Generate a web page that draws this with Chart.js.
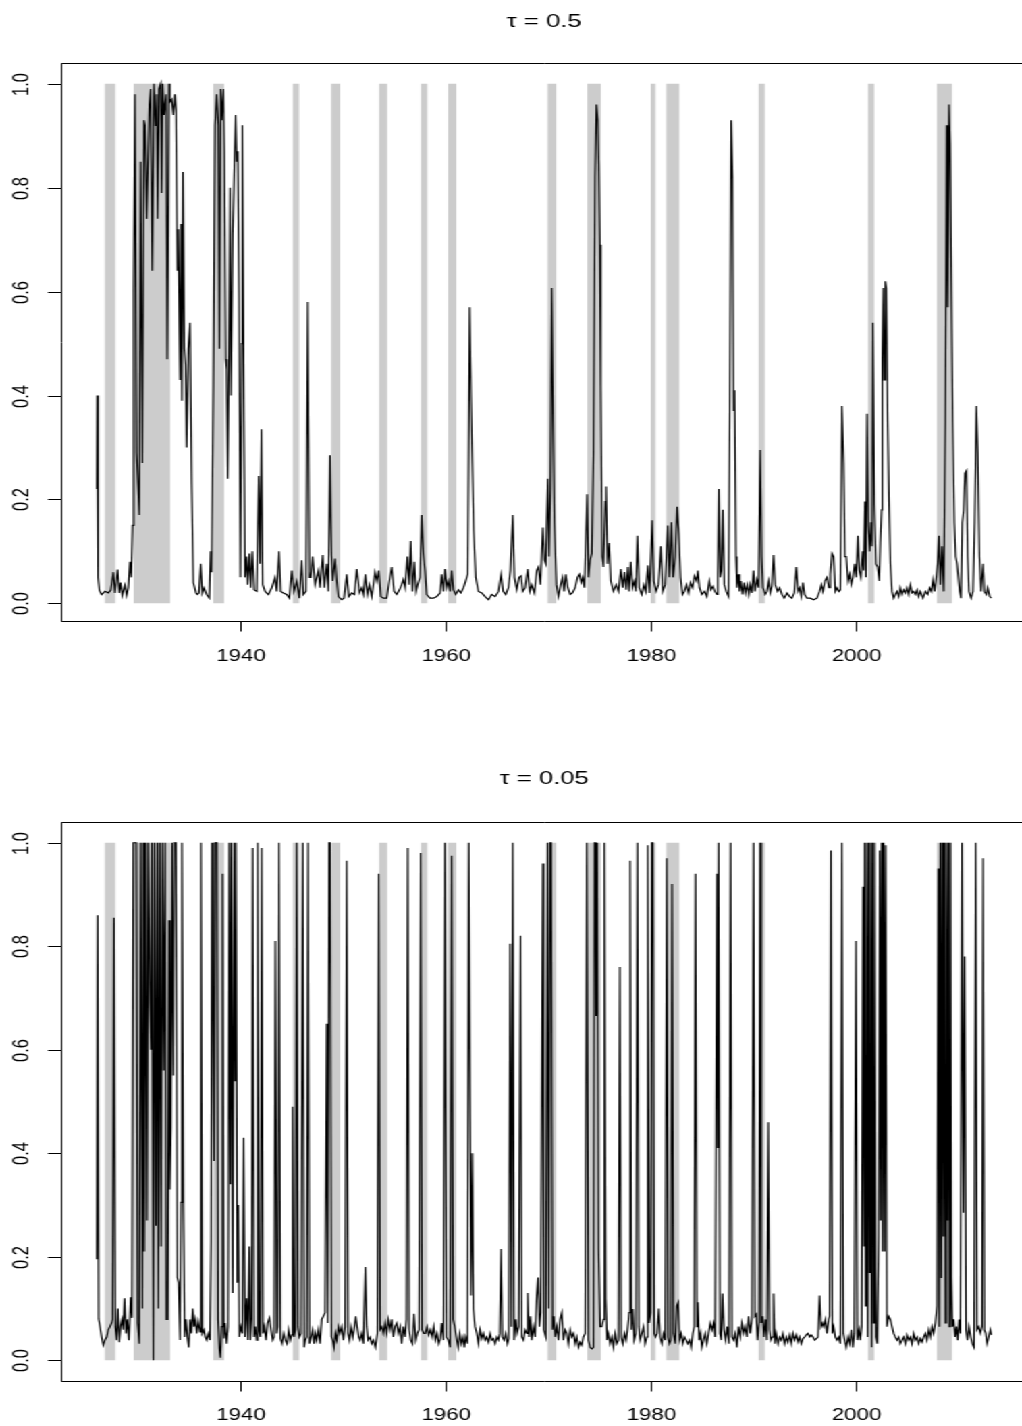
<!DOCTYPE html>
<html><head><meta charset="utf-8">
<script src="https://cdn.jsdelivr.net/npm/chart.js@4.4.1/dist/chart.umd.min.js"></script>
<style>
html,body{margin:0;padding:0;background:#fff;overflow:hidden;width:1022px;height:1426px;}
#wrap{position:absolute;left:0;top:0;width:761px;height:1426px;transform:scaleX(1.35);transform-origin:0 0;}
.panel{position:absolute;left:0;width:761px;height:713px;}
</style></head><body>
<div id="wrap">
<div class="panel" style="top:0"><canvas id="c1" width="761" height="713"></canvas></div>
<div class="panel" style="top:713px"><canvas id="c2" width="761" height="713"></canvas></div>
</div>
<script>
// ---------------- data (decimal year, probability) ----------------
const topPoints = [[1926.00,0.22],[1926.04,0.40],[1926.08,0.22],[1926.17,0.05],[1926.25,0.025],[1926.47,0.017],[1926.79,0.023],[1927.12,0.02],[1927.35,0.025],[1927.61,0.06],[1927.77,0.02],[1928.03,0.065],[1928.19,0.02],[1928.32,0.04],[1928.48,0.015],[1928.74,0.035],[1928.91,0.015],[1929.07,0.03],[1929.23,0.08],[1929.36,0.05],[1929.49,0.15],[1929.59,0.6],[1929.72,0.98],[1929.88,0.29],[1930.14,0.17],[1930.27,0.85],[1930.44,0.27],[1930.60,0.93],[1930.70,0.92],[1930.86,0.74],[1931.12,0.96],[1931.25,0.99],[1931.41,0.64],[1931.57,1.0],[1931.74,0.92],[1931.83,0.98],[1931.93,0.74],[1932.06,0.99],[1932.22,1.0],[1932.32,0.79],[1932.42,1.0],[1932.55,0.94],[1932.75,0.98],[1932.87,0.47],[1933.04,1.0],[1933.13,0.965],[1933.30,0.97],[1933.46,0.94],[1933.62,0.98],[1933.72,0.95],[1933.85,0.64],[1933.95,0.72],[1934.05,0.72],[1934.11,0.43],[1934.21,0.73],[1934.31,0.39],[1934.40,0.83],[1934.53,0.49],[1934.66,0.46],[1934.76,0.30],[1934.92,0.49],[1935.09,0.54],[1935.25,0.23],[1935.41,0.04],[1935.67,0.02],[1935.80,0.017],[1935.96,0.02],[1936.13,0.076],[1936.29,0.02],[1936.45,0.03],[1936.71,0.017],[1936.97,0.01],[1937.10,0.10],[1937.20,0.06],[1937.36,0.42],[1937.53,0.92],[1937.69,0.98],[1937.85,0.92],[1937.95,0.49],[1938.08,0.99],[1938.18,0.93],[1938.34,0.99],[1938.44,0.87],[1938.57,0.47],[1938.66,0.45],[1938.76,0.24],[1938.89,0.48],[1938.99,0.80],[1939.09,0.40],[1939.25,0.71],[1939.41,0.84],[1939.54,0.94],[1939.64,0.85],[1939.74,0.87],[1939.87,0.59],[1940.00,0.05],[1940.13,0.50],[1940.19,0.92],[1940.35,0.35],[1940.45,0.05],[1940.61,0.09],[1940.71,0.036],[1940.88,0.096],[1941.00,0.03],[1941.17,0.10],[1941.33,0.026],[1941.59,0.023],[1941.79,0.245],[1941.92,0.076],[1942.05,0.335],[1942.18,0.036],[1942.41,0.023],[1942.73,0.017],[1943.06,0.03],[1943.38,0.05],[1943.54,0.023],[1943.77,0.10],[1943.93,0.023],[1944.19,0.02],[1944.52,0.017],[1944.78,0.01],[1945.01,0.063],[1945.23,0.023],[1945.49,0.043],[1945.75,0.01],[1945.98,0.083],[1946.14,0.017],[1946.40,0.023],[1946.57,0.58],[1946.73,0.05],[1946.86,0.05],[1947.05,0.09],[1947.28,0.036],[1947.61,0.063],[1947.77,0.03],[1948.03,0.093],[1948.19,0.03],[1948.42,0.076],[1948.58,0.023],[1948.74,0.285],[1948.87,0.093],[1949.00,0.043],[1949.23,0.086],[1949.40,0.043],[1949.56,0.013],[1949.88,0.007],[1950.11,0.01],[1950.37,0.056],[1950.57,0.013],[1950.86,0.02],[1951.12,0.017],[1951.35,0.066],[1951.61,0.02],[1951.83,0.03],[1952.00,0.017],[1952.19,0.056],[1952.39,0.017],[1952.58,0.036],[1952.81,0.013],[1953.13,0.06],[1953.30,0.043],[1953.49,0.063],[1953.69,0.013],[1953.95,0.01],[1954.27,0.01],[1954.50,0.04],[1954.76,0.07],[1954.99,0.023],[1955.25,0.017],[1955.51,0.026],[1955.73,0.036],[1955.89,0.046],[1956.06,0.03],[1956.28,0.09],[1956.45,0.036],[1956.61,0.12],[1956.77,0.023],[1956.97,0.08],[1957.13,0.023],[1957.29,0.036],[1957.52,0.05],[1957.68,0.17],[1957.84,0.096],[1958.01,0.063],[1958.17,0.017],[1958.49,0.01],[1958.82,0.01],[1959.15,0.013],[1959.47,0.02],[1959.63,0.056],[1959.80,0.023],[1959.96,0.066],[1960.12,0.03],[1960.28,0.043],[1960.45,0.023],[1960.61,0.063],[1960.77,0.026],[1961.00,0.017],[1961.26,0.026],[1961.49,0.02],[1961.75,0.03],[1961.97,0.043],[1962.17,0.056],[1962.36,0.57],[1962.49,0.40],[1962.62,0.27],[1962.75,0.14],[1962.95,0.05],[1963.21,0.023],[1963.54,0.02],[1963.86,0.013],[1964.19,0.007],[1964.51,0.017],[1964.84,0.013],[1965.16,0.023],[1965.42,0.056],[1965.62,0.023],[1965.88,0.017],[1966.14,0.03],[1966.33,0.063],[1966.56,0.17],[1966.72,0.05],[1966.95,0.026],[1967.18,0.05],[1967.37,0.053],[1967.54,0.023],[1967.76,0.03],[1968.02,0.066],[1968.22,0.023],[1968.41,0.036],[1968.67,0.02],[1968.90,0.063],[1969.06,0.07],[1969.26,0.036],[1969.49,0.146],[1969.65,0.083],[1969.78,0.076],[1969.97,0.24],[1970.10,0.09],[1970.23,0.22],[1970.36,0.607],[1970.49,0.35],[1970.62,0.155],[1970.82,0.036],[1971.01,0.013],[1971.24,0.036],[1971.41,0.05],[1971.57,0.023],[1971.73,0.056],[1971.93,0.03],[1972.15,0.017],[1972.38,0.02],[1972.64,0.03],[1972.87,0.05],[1973.06,0.056],[1973.23,0.04],[1973.39,0.05],[1973.55,0.03],[1973.81,0.21],[1973.94,0.05],[1974.10,0.083],[1974.27,0.096],[1974.43,0.29],[1974.59,0.82],[1974.72,0.96],[1974.85,0.93],[1974.95,0.845],[1975.05,0.69],[1975.14,0.42],[1975.27,0.09],[1975.40,0.07],[1975.57,0.196],[1975.66,0.225],[1975.80,0.076],[1975.96,0.116],[1976.12,0.043],[1976.38,0.023],[1976.64,0.036],[1976.87,0.023],[1977.10,0.066],[1977.29,0.03],[1977.45,0.06],[1977.62,0.026],[1977.78,0.07],[1977.91,0.023],[1978.07,0.08],[1978.24,0.03],[1978.43,0.043],[1978.56,0.023],[1978.72,0.13],[1978.88,0.03],[1979.14,0.017],[1979.34,0.036],[1979.53,0.023],[1979.73,0.073],[1979.89,0.02],[1980.15,0.16],[1980.31,0.043],[1980.54,0.023],[1980.77,0.036],[1981.00,0.11],[1981.19,0.023],[1981.42,0.036],[1981.68,0.15],[1981.84,0.05],[1982.04,0.156],[1982.20,0.05],[1982.40,0.09],[1982.59,0.186],[1982.75,0.135],[1982.92,0.05],[1983.11,0.017],[1983.31,0.023],[1983.50,0.036],[1983.70,0.02],[1983.89,0.04],[1984.09,0.03],[1984.28,0.053],[1984.48,0.043],[1984.61,0.063],[1984.77,0.03],[1985.00,0.017],[1985.26,0.023],[1985.49,0.013],[1985.72,0.043],[1985.88,0.026],[1986.08,0.033],[1986.27,0.023],[1986.47,0.017],[1986.56,0.056],[1986.66,0.22],[1986.79,0.05],[1986.92,0.063],[1987.05,0.18],[1987.18,0.036],[1987.38,0.023],[1987.60,0.013],[1987.73,0.40],[1987.86,0.93],[1987.99,0.82],[1988.09,0.37],[1988.19,0.41],[1988.32,0.09],[1988.42,0.03],[1988.58,0.056],[1988.68,0.023],[1988.81,0.043],[1988.97,0.017],[1989.13,0.04],[1989.26,0.02],[1989.43,0.036],[1989.59,0.017],[1989.72,0.036],[1989.88,0.02],[1990.04,0.063],[1990.17,0.023],[1990.37,0.046],[1990.53,0.03],[1990.69,0.295],[1990.82,0.09],[1990.95,0.03],[1991.18,0.017],[1991.34,0.023],[1991.51,0.043],[1991.67,0.02],[1991.83,0.033],[1991.99,0.093],[1992.16,0.036],[1992.38,0.023],[1992.58,0.03],[1992.81,0.017],[1993.03,0.01],[1993.30,0.02],[1993.56,0.013],[1993.78,0.01],[1994.01,0.02],[1994.21,0.07],[1994.37,0.023],[1994.53,0.03],[1994.69,0.013],[1994.86,0.04],[1995.02,0.017],[1995.25,0.01],[1995.57,0.01],[1995.90,0.007],[1996.22,0.01],[1996.48,0.023],[1996.65,0.036],[1996.81,0.023],[1997.00,0.043],[1997.20,0.05],[1997.39,0.03],[1997.52,0.056],[1997.69,0.096],[1997.85,0.09],[1998.01,0.023],[1998.17,0.03],[1998.37,0.023],[1998.50,0.026],[1998.66,0.38],[1998.82,0.27],[1998.95,0.09],[1999.08,0.09],[1999.25,0.043],[1999.41,0.056],[1999.57,0.036],[1999.73,0.05],[1999.90,0.076],[2000.06,0.05],[2000.22,0.13],[2000.35,0.063],[2000.51,0.05],[2000.68,0.10],[2000.77,0.063],[2000.90,0.196],[2001.00,0.05],[2001.10,0.365],[2001.23,0.15],[2001.36,0.10],[2001.49,0.156],[2001.59,0.11],[2001.68,0.54],[2001.82,0.19],[2001.98,0.076],[2002.14,0.07],[2002.30,0.043],[2002.40,0.116],[2002.53,0.18],[2002.60,0.47],[2002.69,0.607],[2002.79,0.43],[2002.89,0.62],[2002.99,0.607],[2003.12,0.35],[2003.25,0.196],[2003.38,0.076],[2003.54,0.023],[2003.70,0.01],[2003.86,0.017],[2004.03,0.023],[2004.19,0.013],[2004.35,0.03],[2004.51,0.017],[2004.68,0.026],[2004.84,0.02],[2005.00,0.03],[2005.16,0.017],[2005.33,0.036],[2005.49,0.02],[2005.65,0.023],[2005.82,0.017],[2005.98,0.026],[2006.14,0.013],[2006.30,0.023],[2006.56,0.01],[2006.79,0.023],[2007.02,0.017],[2007.21,0.03],[2007.38,0.023],[2007.54,0.046],[2007.70,0.023],[2007.86,0.05],[2007.99,0.076],[2008.12,0.13],[2008.25,0.036],[2008.42,0.11],[2008.58,0.023],[2008.74,0.35],[2008.87,0.92],[2008.97,0.57],[2009.10,0.96],[2009.20,0.885],[2009.33,0.62],[2009.46,0.35],[2009.62,0.155],[2009.75,0.09],[2009.88,0.076],[2010.01,0.05],[2010.14,0.023],[2010.27,0.01],[2010.40,0.155],[2010.53,0.18],[2010.66,0.25],[2010.79,0.255],[2010.92,0.09],[2011.05,0.023],[2011.25,0.01],[2011.44,0.023],[2011.60,0.156],[2011.77,0.38],[2011.90,0.29],[2012.06,0.09],[2012.22,0.023],[2012.42,0.076],[2012.55,0.023],[2012.74,0.017],[2012.87,0.03],[2013.07,0.013],[2013.23,0.01]];

const bottomPoints = [[1926.00,0.195],[1926.08,0.86],[1926.18,0.08],[1926.31,0.065],[1926.47,0.045],[1926.63,0.029],[1926.79,0.039],[1926.96,0.045],[1927.12,0.059],[1927.28,0.065],[1927.44,0.072],[1927.54,0.079],[1927.67,0.855],[1927.80,0.065],[1927.93,0.039],[1928.06,0.10],[1928.19,0.035],[1928.32,0.065],[1928.45,0.079],[1928.58,0.059],[1928.71,0.12],[1928.84,0.052],[1928.97,0.079],[1929.13,0.039],[1929.30,0.122],[1929.43,0.082],[1929.56,1.0],[1929.69,1.0],[1929.85,1.0],[1929.98,0.072],[1930.14,0.032],[1930.27,1.0],[1930.44,0.10],[1930.53,1.0],[1930.63,0.21],[1930.76,1.0],[1930.89,0.27],[1931.02,1.0],[1931.18,0.69],[1931.28,0.60],[1931.38,1.0],[1931.51,0.0],[1931.64,1.0],[1931.77,0.26],[1931.90,1.0],[1932.00,0.10],[1932.13,1.0],[1932.26,0.22],[1932.39,1.0],[1932.52,0.56],[1932.65,1.0],[1932.78,0.079],[1932.91,0.079],[1933.04,0.85],[1933.13,0.33],[1933.23,0.45],[1933.33,1.0],[1933.46,0.55],[1933.56,1.0],[1933.72,1.0],[1933.85,0.16],[1933.98,0.15],[1934.11,0.039],[1934.21,0.305],[1934.31,1.0],[1934.44,0.30],[1934.57,0.045],[1934.70,0.079],[1934.83,0.045],[1934.96,0.025],[1935.09,0.079],[1935.22,0.052],[1935.35,0.10],[1935.48,0.065],[1935.61,0.079],[1935.74,0.052],[1935.90,0.075],[1936.06,0.055],[1936.16,1.0],[1936.29,0.052],[1936.45,0.059],[1936.58,0.045],[1936.71,0.039],[1936.87,0.052],[1937.04,0.039],[1937.14,0.23],[1937.23,1.0],[1937.33,0.70],[1937.43,0.385],[1937.53,1.0],[1937.62,1.0],[1937.72,1.0],[1937.82,0.079],[1937.95,0.022],[1938.05,0.005],[1938.18,0.065],[1938.27,0.94],[1938.40,0.042],[1938.50,0.072],[1938.66,0.032],[1938.79,0.065],[1938.92,1.0],[1939.02,0.34],[1939.12,1.0],[1939.25,0.13],[1939.38,1.0],[1939.48,0.54],[1939.57,1.0],[1939.70,0.15],[1939.80,0.30],[1939.90,0.045],[1940.03,0.065],[1940.19,0.052],[1940.32,0.43],[1940.45,0.045],[1940.61,0.12],[1940.74,0.039],[1940.87,0.22],[1940.97,0.039],[1941.10,0.079],[1941.20,0.99],[1941.33,0.045],[1941.46,0.065],[1941.59,0.039],[1941.69,1.0],[1941.82,0.059],[1941.95,0.045],[1942.08,0.99],[1942.21,0.052],[1942.34,0.065],[1942.50,0.039],[1942.66,0.072],[1942.83,0.082],[1942.99,0.059],[1943.15,0.039],[1943.28,0.045],[1943.41,0.81],[1943.54,0.052],[1943.64,0.065],[1943.77,1.0],[1943.90,0.042],[1944.06,0.032],[1944.22,0.052],[1944.39,0.039],[1944.55,0.032],[1944.71,0.059],[1944.87,0.039],[1945.00,0.049],[1945.10,0.49],[1945.23,0.045],[1945.36,0.059],[1945.49,1.0],[1945.62,0.065],[1945.75,0.045],[1945.91,0.052],[1946.08,1.0],[1946.21,0.025],[1946.34,0.039],[1946.47,0.045],[1946.60,1.0],[1946.73,0.032],[1946.89,0.045],[1947.05,0.059],[1947.18,0.032],[1947.31,0.052],[1947.44,0.039],[1947.61,0.059],[1947.77,0.032],[1947.93,0.079],[1948.09,0.085],[1948.26,0.092],[1948.42,0.65],[1948.52,0.072],[1948.65,1.0],[1948.74,1.0],[1948.87,0.045],[1949.00,0.039],[1949.13,0.025],[1949.26,0.052],[1949.40,0.039],[1949.56,0.065],[1949.72,0.052],[1949.88,0.065],[1950.05,0.039],[1950.21,0.065],[1950.37,0.965],[1950.50,0.052],[1950.63,0.039],[1950.79,0.065],[1950.96,0.045],[1951.12,0.065],[1951.25,0.085],[1951.38,0.065],[1951.54,0.045],[1951.67,0.039],[1951.83,0.052],[1952.00,0.032],[1952.19,0.18],[1952.32,0.065],[1952.45,0.039],[1952.65,0.045],[1952.81,0.032],[1952.97,0.039],[1953.17,0.025],[1953.36,0.052],[1953.49,0.94],[1953.62,0.059],[1953.79,0.065],[1953.95,0.052],[1954.11,0.072],[1954.27,0.052],[1954.43,0.079],[1954.60,0.059],[1954.76,0.079],[1954.92,0.045],[1955.08,0.065],[1955.25,0.072],[1955.41,0.052],[1955.57,0.065],[1955.73,0.032],[1955.89,0.065],[1956.06,0.045],[1956.19,0.079],[1956.32,0.99],[1956.45,0.059],[1956.61,0.039],[1956.77,0.032],[1956.93,0.09],[1957.10,0.039],[1957.26,0.052],[1957.42,0.059],[1957.58,0.98],[1957.71,0.059],[1957.88,0.052],[1958.04,0.052],[1958.20,0.065],[1958.36,0.049],[1958.53,0.059],[1958.69,0.045],[1958.85,0.065],[1959.01,0.039],[1959.18,0.052],[1959.34,0.032],[1959.50,0.042],[1959.63,0.072],[1959.80,0.039],[1959.96,1.0],[1960.09,0.045],[1960.28,0.039],[1960.45,0.025],[1960.61,0.975],[1960.74,0.079],[1960.90,0.065],[1961.06,0.045],[1961.23,0.025],[1961.39,0.052],[1961.55,0.032],[1961.71,0.045],[1961.84,0.025],[1961.97,0.045],[1962.14,0.032],[1962.27,1.0],[1962.37,1.0],[1962.49,0.125],[1962.62,0.40],[1962.72,0.099],[1962.88,0.065],[1963.05,0.052],[1963.21,0.032],[1963.37,0.059],[1963.54,0.042],[1963.70,0.052],[1963.86,0.039],[1964.02,0.045],[1964.19,0.035],[1964.35,0.052],[1964.51,0.039],[1964.67,0.042],[1964.84,0.032],[1965.00,0.045],[1965.16,0.039],[1965.29,0.052],[1965.42,0.215],[1965.55,0.045],[1965.71,0.039],[1965.88,0.052],[1966.04,0.032],[1966.17,0.042],[1966.30,0.805],[1966.43,0.065],[1966.56,1.0],[1966.69,0.039],[1966.85,0.079],[1966.98,0.052],[1967.14,0.065],[1967.31,0.82],[1967.44,0.045],[1967.60,0.039],[1967.76,0.059],[1967.93,0.052],[1968.02,0.13],[1968.15,0.045],[1968.28,0.085],[1968.41,0.039],[1968.58,0.065],[1968.74,0.045],[1968.90,0.125],[1969.03,0.16],[1969.16,0.065],[1969.29,0.092],[1969.49,0.96],[1969.58,0.059],[1969.78,0.045],[1969.94,1.0],[1970.07,0.10],[1970.20,1.0],[1970.30,1.0],[1970.43,0.059],[1970.56,0.085],[1970.69,0.045],[1970.85,0.065],[1971.01,0.039],[1971.18,0.079],[1971.34,0.092],[1971.50,0.039],[1971.67,0.059],[1971.83,0.052],[1971.99,0.032],[1972.15,0.059],[1972.32,0.045],[1972.48,0.052],[1972.64,0.032],[1972.80,0.045],[1972.97,0.025],[1973.13,0.035],[1973.29,0.029],[1973.45,0.045],[1973.62,0.052],[1973.78,1.0],[1973.94,0.039],[1974.10,0.025],[1974.27,0.022],[1974.43,0.025],[1974.53,1.0],[1974.62,1.0],[1974.69,0.665],[1974.79,1.0],[1974.92,0.215],[1975.08,0.065],[1975.24,0.065],[1975.41,0.079],[1975.50,1.0],[1975.63,0.119],[1975.76,0.039],[1975.89,0.052],[1976.05,0.032],[1976.22,0.045],[1976.38,0.025],[1976.54,0.052],[1976.71,0.032],[1976.87,0.039],[1977.00,0.76],[1977.13,0.045],[1977.29,0.032],[1977.45,0.052],[1977.62,0.039],[1977.75,0.059],[1977.91,0.092],[1978.01,0.965],[1978.14,0.059],[1978.27,0.099],[1978.40,0.039],[1978.56,0.052],[1978.72,1.0],[1978.85,0.065],[1978.98,0.039],[1979.15,0.052],[1979.31,0.065],[1979.47,0.032],[1979.63,0.045],[1979.73,0.995],[1979.86,0.072],[1979.99,0.092],[1980.12,1.0],[1980.22,1.0],[1980.35,0.052],[1980.48,0.045],[1980.64,0.052],[1980.80,0.10],[1980.93,0.045],[1981.10,0.032],[1981.26,0.052],[1981.42,0.039],[1981.58,0.97],[1981.71,0.045],[1981.84,0.032],[1981.97,0.039],[1982.10,0.92],[1982.23,0.052],[1982.40,0.032],[1982.56,0.105],[1982.69,0.112],[1982.82,0.039],[1982.98,0.052],[1983.14,0.032],[1983.31,0.045],[1983.47,0.039],[1983.63,0.032],[1983.80,0.039],[1983.96,0.025],[1984.12,0.052],[1984.25,0.065],[1984.38,0.94],[1984.51,0.065],[1984.61,0.112],[1984.74,0.039],[1984.87,0.052],[1985.00,0.025],[1985.16,0.039],[1985.32,0.052],[1985.49,0.032],[1985.65,0.052],[1985.82,0.072],[1985.98,0.059],[1986.14,0.072],[1986.30,0.045],[1986.47,0.94],[1986.56,0.41],[1986.63,1.0],[1986.76,0.052],[1986.89,0.039],[1987.02,0.129],[1987.15,0.059],[1987.31,0.039],[1987.47,0.065],[1987.64,0.032],[1987.80,1.0],[1987.93,0.045],[1988.09,0.039],[1988.25,0.052],[1988.42,0.025],[1988.58,0.065],[1988.74,0.045],[1988.91,0.072],[1989.07,0.052],[1989.23,0.065],[1989.39,0.045],[1989.56,0.085],[1989.72,0.052],[1989.88,0.079],[1990.04,1.0],[1990.17,0.085],[1990.30,0.089],[1990.43,0.039],[1990.56,0.072],[1990.69,1.0],[1990.79,0.072],[1990.92,0.085],[1991.05,0.045],[1991.21,0.079],[1991.34,0.039],[1991.47,0.46],[1991.60,0.059],[1991.73,0.039],[1991.86,0.045],[1991.99,0.129],[1992.12,0.032],[1992.25,0.052],[1992.42,0.032],[1992.58,0.045],[1992.74,0.039],[1992.90,0.052],[1993.07,0.032],[1993.23,0.045],[1993.39,0.035],[1993.56,0.049],[1993.72,0.032],[1993.88,0.052],[1994.04,0.039],[1994.21,0.049],[1994.37,0.035],[1994.53,0.045],[1994.69,0.032],[1994.86,0.042],[1995.02,0.045],[1995.18,0.049],[1995.34,0.052],[1995.51,0.045],[1995.67,0.049],[1995.83,0.045],[1996.00,0.039],[1996.16,0.042],[1996.32,0.045],[1996.48,0.125],[1996.61,0.065],[1996.74,0.072],[1996.87,0.065],[1997.04,0.079],[1997.20,0.052],[1997.36,0.079],[1997.46,0.085],[1997.59,0.985],[1997.72,0.052],[1997.85,0.065],[1998.01,0.045],[1998.17,0.039],[1998.34,0.045],[1998.50,0.032],[1998.66,1.0],[1998.79,0.052],[1998.92,0.039],[1999.08,0.025],[1999.25,0.045],[1999.41,0.032],[1999.57,0.059],[1999.73,0.025],[1999.86,0.052],[2000.03,0.81],[2000.16,0.039],[2000.32,0.059],[2000.45,0.039],[2000.58,0.065],[2000.71,0.915],[2000.81,0.22],[2000.87,1.0],[2000.97,0.105],[2001.07,1.0],[2001.17,0.045],[2001.26,1.0],[2001.36,0.17],[2001.46,1.0],[2001.56,0.025],[2001.65,1.0],[2001.75,0.072],[2001.85,1.0],[2001.98,0.045],[2002.11,0.032],[2002.24,0.24],[2002.34,0.985],[2002.43,0.27],[2002.53,1.0],[2002.63,0.21],[2002.73,1.0],[2002.82,0.21],[2002.92,0.995],[2003.05,0.065],[2003.21,0.085],[2003.38,0.079],[2003.54,0.065],[2003.70,0.052],[2003.86,0.045],[2004.03,0.039],[2004.19,0.045],[2004.35,0.032],[2004.51,0.039],[2004.68,0.045],[2004.84,0.032],[2005.00,0.049],[2005.16,0.039],[2005.33,0.045],[2005.49,0.032],[2005.65,0.052],[2005.82,0.039],[2005.98,0.045],[2006.14,0.032],[2006.30,0.042],[2006.47,0.035],[2006.63,0.045],[2006.79,0.052],[2006.95,0.039],[2007.12,0.059],[2007.28,0.045],[2007.44,0.065],[2007.60,0.052],[2007.77,0.072],[2007.93,0.105],[2008.06,0.95],[2008.16,0.065],[2008.25,1.0],[2008.35,0.159],[2008.45,1.0],[2008.55,0.239],[2008.64,1.0],[2008.74,0.072],[2008.84,1.0],[2008.94,0.27],[2009.04,1.0],[2009.13,0.065],[2009.23,1.0],[2009.33,0.159],[2009.43,0.065],[2009.56,0.079],[2009.69,0.045],[2009.82,0.065],[2009.95,0.039],[2010.08,0.079],[2010.21,0.052],[2010.37,1.0],[2010.50,0.285],[2010.63,0.78],[2010.76,0.059],[2010.89,0.039],[2011.05,0.065],[2011.21,0.045],[2011.38,0.032],[2011.54,0.025],[2011.70,1.0],[2011.83,0.059],[2011.99,0.065],[2012.15,0.052],[2012.32,0.065],[2012.42,0.97],[2012.55,0.059],[2012.68,0.052],[2012.81,0.032],[2012.97,0.045],[2013.13,0.059],[2013.23,0.049]];

// NBER recessions (peak, trough) as decimal years
const recStart = [1926.75,1929.58,1937.33,1945.08,1948.83,1953.50,1957.58,1960.25,1969.92,1973.83,1980.00,1981.50,1990.50,2001.17,2007.92];
const recEnd   = [1927.83,1933.17,1938.42,1945.75,1949.75,1954.33,1958.25,1961.08,1970.83,1975.17,1980.50,1982.83,1991.17,2001.83,2009.42];

const xTicks = [1940,1960,1980,2000];
const yTicks = [0,0.2,0.4,0.6,0.8,1.0];
const yTickLabels = ['0.0','0.2','0.4','0.6','0.8','1.0'];
const titles = ['\u03C4 = 0.5','\u03C4 = 0.05'];
const xRange = [1922.51, 2016.74];
const yRanges = [[-0.034, 1.04], [-0.04, 1.04]];

// ---------------- layout (canvas units, stretched by CSS) ----------------
const FONT = '"Liberation Sans", Arial, Helvetica, sans-serif';
const layouts = [
  {padTop: 63, padBottom: 92, titleY: 22, xLabY: 656},
  {padTop: 109, padBottom: 45, titleY: 66, xLabY: 702}
];
const PAD_LEFT = 45.19;

function makeChart(canvasId, points, yr, title, lay) {
  const recDatasets = recStart.map((s, i) => ({
    data: [{x: s, y: 1}, {x: recEnd[i], y: 1}],
    borderWidth: 0, pointRadius: 0, fill: {value: 0},
    backgroundColor: '#cccccc', borderColor: 'rgba(0,0,0,0)', order: 2
  }));
  const lineDs = {
    data: points.map(p => ({x: p[0], y: p[1]})),
    borderColor: '#000', borderWidth: 1.15, pointRadius: 0, fill: false,
    tension: 0, order: 0
  };
  const axesPlugin = {
    id: 'rAxes',
    afterDraw(chart) {
      const ctx = chart.ctx, a = chart.chartArea;
      const xs = chart.scales.x, ys = chart.scales.y;
      ctx.save();
      ctx.strokeStyle = '#000'; ctx.lineWidth = 1;
      ctx.beginPath();
      const L = Math.round(a.left) + 0.5, T = Math.round(a.top) + 0.5, B = Math.round(a.bottom) + 0.5;
      ctx.moveTo(a.right + 2, T); ctx.lineTo(L, T); ctx.lineTo(L, B); ctx.lineTo(a.right + 2, B);
      ctx.stroke();
      ctx.fillStyle = '#000';
      ctx.font = '16.5px ' + FONT;
      ctx.textAlign = 'center'; ctx.textBaseline = 'middle';
      yTicks.forEach((v, i) => {
        const y = Math.round(ys.getPixelForValue(v)) + 0.5;
        ctx.beginPath(); ctx.moveTo(L, y); ctx.lineTo(L - 10, y); ctx.stroke();
        ctx.save(); ctx.translate(15.6, y); ctx.rotate(-Math.PI / 2);
        ctx.fillText(yTickLabels[i], 0, 1); ctx.restore();
      });
      xTicks.forEach(t => {
        const x = Math.round(xs.getPixelForValue(t)) + 0.5;
        ctx.beginPath(); ctx.moveTo(x, B); ctx.lineTo(x, B + 10); ctx.stroke();
        ctx.fillText(String(t), x, lay.xLabY);
      });
      ctx.font = '19px ' + FONT;
      ctx.fillText(title, (a.left + a.right) / 2, lay.titleY);
      ctx.restore();
    }
  };
  return new Chart(document.getElementById(canvasId), {
    type: 'line',
    data: {datasets: [lineDs, ...recDatasets]},
    options: {
      responsive: false, animation: false, events: [],
      layout: {padding: {left: PAD_LEFT, right: 0, top: lay.padTop, bottom: lay.padBottom}},
      scales: {
        x: {type: 'linear', min: xRange[0], max: xRange[1], display: false},
        y: {type: 'linear', min: yr[0], max: yr[1], display: false}
      },
      plugins: {legend: {display: false}, tooltip: {enabled: false}, title: {display: false}}
    },
    plugins: [axesPlugin]
  });
}

makeChart('c1', topPoints, yRanges[0], titles[0], layouts[0]);
makeChart('c2', bottomPoints, yRanges[1], titles[1], layouts[1]);
</script>
</body></html>
